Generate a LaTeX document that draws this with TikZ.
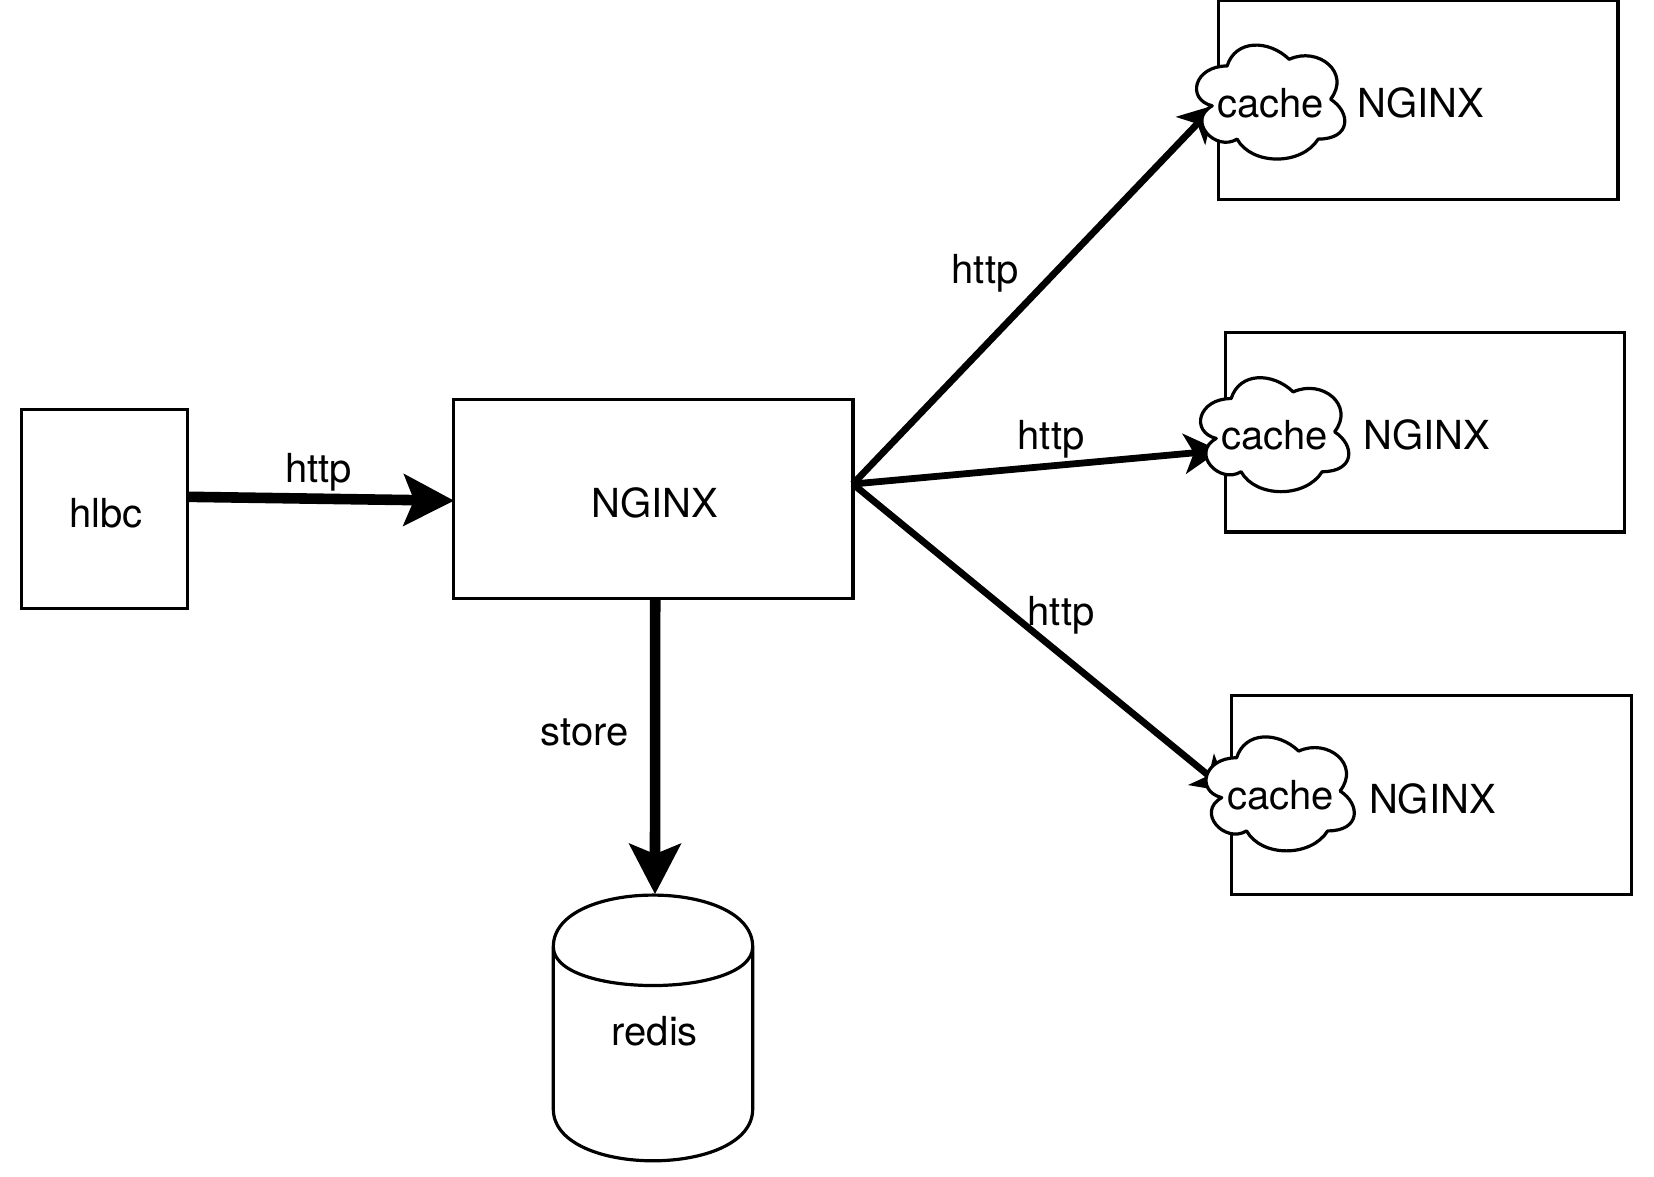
\documentclass[tikz,border=0pt]{standalone}
\usepackage{fontspec}
\setmainfont{TeX Gyre Heros}
\usetikzlibrary{arrows.meta}
\tikzset{
  lbl/.style={anchor=base,inner sep=0pt,outer sep=0pt,font=\fontsize{40}{48}\selectfont},
  boxnode/.style={draw=black,line width=3.2pt,rectangle,inner sep=0pt,outer sep=0pt,
    font=\fontsize{40}{48}\selectfont,text height=37.4pt,text depth=0pt},
  wide/.style={boxnode,minimum width=399.4pt,minimum height=199.4pt},
  cloudbox/.style={rectangle,inner sep=0pt,outer sep=0pt,minimum width=165.5pt,minimum height=133pt},
  cloudline/.style={draw=black,fill=white,line width=3.2pt,line join=round},
  heavy/.style={draw=black,line width=10.6pt,-{Stealth[length=51pt,width=53pt,inset=11pt,line width=0pt]}},
  link/.style={draw=black,line width=6.8pt,-{Stealth[length=36pt,width=41pt,inset=10pt,line width=0pt]}},
}
\newcommand{\cloudoutline}[1]{%
  \draw[cloudline,shift={(#1.north west)},x=165.5pt,y=-133pt]
    (.25,.25) .. controls (.05,.25) and (0,.5) .. (.16,.55)
    .. controls (0,.66) and (.18,.9) .. (.31,.8)
    .. controls (.4,1) and (.7,1) .. (.8,.8)
    .. controls (1,.8) and (1,.6) .. (.875,.5)
    .. controls (1,.3) and (.8,.1) .. (.625,.2)
    .. controls (.5,.05) and (.3,.05) .. (.25,.25) -- cycle;}
\begin{document}
\begin{tikzpicture}[x=1pt,y=-1pt]
\path[use as bounding box,fill=white] (0,0) rectangle (1654,1176);

% boxes
\node[boxnode,minimum width=166.6pt,minimum height=199.4pt] (hlbc) at (104.4,509) {\hspace{3pt}hlbc};
\node[boxnode,minimum width=399.4pt,minimum height=199.4pt] (nginx) at (653.2,499) {\hspace{3.6pt}NGINX};
\node[wide,text height=35pt] (top) at (1418.2,100) {\hspace{4.6pt}NGINX};
\node[wide,text height=35pt] (mid) at (1424.8,432.2) {\hspace{3.6pt}NGINX};
\node[wide,text height=37.4pt] (low) at (1431.4,795) {\hspace{2pt}NGINX};

% cylinder
\node[rectangle,inner sep=0pt,outer sep=0pt,minimum width=199.4pt,minimum height=265.7pt,
  font=\fontsize{40}{48}\selectfont,text height=34.6pt,text depth=0pt] (redis) at (653,1027.9) {\hspace{3.4pt}redis};
\draw[line width=3.2pt,line join=round,shift={(redis.north west)},x=199.4pt,y=-1pt]
  (0,51.7) .. controls (0,-17.2) and (1,-17.2) .. (1,51.7)
  -- (1,214) .. controls (1,283) and (0,283) .. (0,214) -- cycle
  (0,51.7) .. controls (0,103.4) and (1,103.4) .. (1,51.7);

% cloud anchors
\node[cloudbox] (cloudA) at (1268.5,99.2) {};
\node[cloudbox] (cloudB) at (1272.5,431.8) {};
\node[cloudbox] (cloudC) at (1278,791) {};

% connectors
\draw[heavy] ([yshift=12.2pt]hlbc.east) -- ([yshift=-1.7pt,xshift=.5pt]nginx.west);
\draw[heavy] ([xshift=2pt]nginx.south) -- ([xshift=2pt,yshift=1pt]redis.north);
\draw[link] ([yshift=15pt]nginx.east) -- ([xshift=29.5pt,yshift=-5.8pt]cloudA.west);
\draw[link] ([yshift=15pt]nginx.east) -- ([xshift=30pt,yshift=-18.7pt]cloudB.west);
\draw[link] ([yshift=15pt]nginx.east) -- ([xshift=33.5pt,yshift=-1pt]cloudC.west);

% clouds on top
\cloudoutline{cloudA}
\cloudoutline{cloudB}
\cloudoutline{cloudC}
\node[lbl] (cacheA) at (1270.5,117.7) {cache};
\node[lbl] (cacheB) at (1274.5,449.3) {cache};
\node[lbl] (cacheC) at (1280.5,809.3) {cache};

% connector labels
\node[lbl] (httpIn) at (318.8,482.7) {http};
\node[lbl] (httpA) at (985,283.3) {http};
\node[lbl] (httpB) at (1051,449.3) {http};
\node[lbl] (httpC) at (1061,625.3) {http};
\node[lbl] (store) at (584.6,745) {store};
\end{tikzpicture}
\end{document}
